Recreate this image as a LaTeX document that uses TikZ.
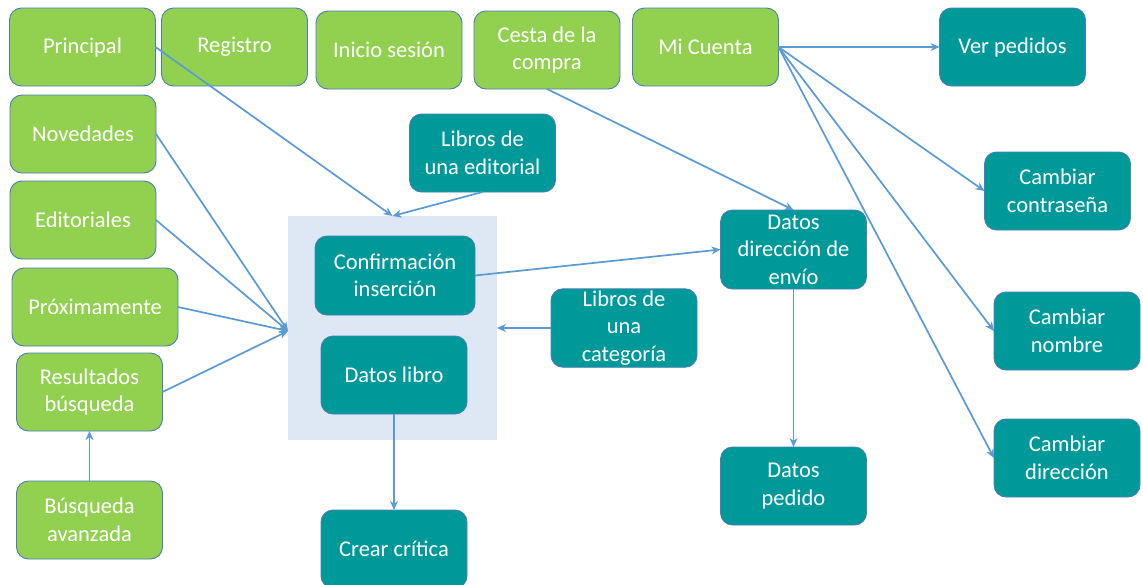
\documentclass[tikz,border=0pt]{standalone}
\usepackage{fontspec}
\setmainfont{Carlito}
\usetikzlibrary{arrows.meta}
\definecolor{gfill}{HTML}{92D050}
\definecolor{tfill}{HTML}{009999}
\definecolor{bline}{HTML}{4A7EBB}
\definecolor{bgblue}{HTML}{DEE8F5}
\definecolor{arr}{HTML}{5B9BD5}
\begin{document}
\begin{tikzpicture}[x=1pt,y=-1pt,
  box/.style={rectangle, rounded corners=12pt, draw=bline, line width=0.9pt,
    minimum width=146pt, minimum height=78pt, inner sep=2pt, outer sep=0pt,
    text=white, align=center, font=\fontsize{22.5}{27.5}\selectfont},
  gbox/.style={box, fill=gfill},
  tbox/.style={box, fill=tfill},
  bgbox/.style={rectangle, fill=bgblue, draw=none, outer sep=0pt, inner sep=0pt},
  link/.style={draw=arr, line width=1.7pt, -{Stealth[length=9pt,width=8pt]}}]
\useasboundingbox (0,0) rectangle (1143,584);
\fill[white] (0,0) rectangle (1143,584);
% background rectangle
\node[bgbox, minimum width=209pt, minimum height=224pt] (bg) at (392.5,328) {};
% green boxes
\node[gbox] (principal) at (82.5,47) {Principal};
\node[gbox] (registro) at (234.5,47) {Registro};
\node[gbox] (inicio) at (389,50) {Inicio sesión};
\node[gbox] (cesta) at (547,50) {Cesta de la\\compra};
\node[gbox] (micuenta) at (705.5,47) {Mi Cuenta};
\node[gbox] (novedades) at (83,134) {Novedades};
\node[gbox] (editoriales) at (83,220) {Editoriales};
\node[gbox, minimum width=166pt] (proximamente) at (95,307) {Próximamente};
\node[gbox] (resultados) at (89.5,392) {Resultados\\búsqueda};
\node[gbox] (avanzada) at (89.5,520) {Búsqueda\\avanzada};
% teal boxes
\node[tbox] (verpedidos) at (1012.5,47) {Ver pedidos};
\node[tbox] (libedit) at (482.5,153) {Libros de\\una editorial};
\node[tbox] (contrasena) at (1057.5,191) {Cambiar\\contraseña};
\node[tbox, minimum height=79pt] (datosdir) at (793.5,249.5) {Datos\\dirección de\\envío};
\node[tbox, minimum width=160pt, minimum height=79pt] (confirm) at (395,275.5) {Confirmación\\inserción};
\node[tbox] (libcat) at (624,328) {Libros de\\una\\categoría};
\node[tbox] (nombre) at (1067,331) {Cambiar\\nombre};
\node[tbox] (datoslibro) at (394,375) {Datos libro};
\node[tbox] (direccion) at (1067,458) {Cambiar\\dirección};
\node[tbox] (pedido) at (793.5,486) {Datos\\pedido};
\node[tbox] (critica) at (394,549) {Crear crítica};
% connectors
\draw[link] (principal.east) -- (bg.north);
\draw[link] (libedit.south) -- (bg.north);
\draw[link] (novedades.east) -- ([yshift=-3pt]bg.west);
\draw[link] (editoriales.east) -- ([yshift=-3pt]bg.west);
\draw[link] (proximamente.east) -- ([yshift=-3pt]bg.west);
\draw[link] (resultados.east) -- ([yshift=-3pt]bg.west);
\draw[link] (avanzada.north) -- (resultados.south);
\draw[link] (cesta.south) -- (datosdir.north);
\draw[link] (confirm.east) -- (datosdir.west);
\draw[link] (libcat.west) -- (bg.east);
\draw[link] (datoslibro.south) -- (critica.north);
\draw[link] (datosdir.south) -- (pedido.north);
\draw[link] (micuenta.east) -- (verpedidos.west);
\draw[link] (micuenta.east) -- (contrasena.west);
\draw[link] (micuenta.east) -- (nombre.west);
\draw[link] (micuenta.east) -- (direccion.west);
\end{tikzpicture}
\end{document}
